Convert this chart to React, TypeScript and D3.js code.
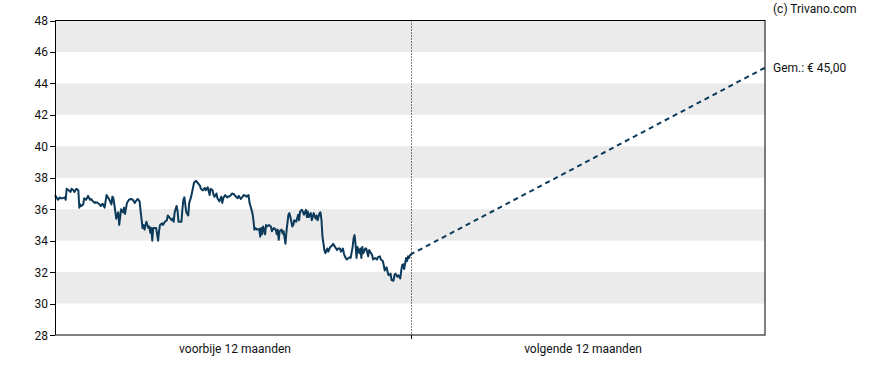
import React from "react";
import * as d3 from "d3";

// past 12 months: [day in window, price]
const pastDays = [0,1,3,5,6,8,10,11,12,14,16,17,19,20,22,24,25,26,27,29,30,32,34,36,37,39,41,42,44,46,47,49,51,53,54,56,58,59,60,61,63,65,66,68,70,71,72,74,76,78,80,82,83,85,87,88,90,91,92,94,96,97,98,99,100,101,103,104,106,107,108,110,111,113,115,116,118,120,121,122,123,125,126,127,130,131,132,133,135,137,138,140,142,143,145,147,149,150,152,154,155,157,159,160,162,163,164,166,167,169,171,172,173,175,177,178,179,181,182,184,186,188,189,191,193,194,196,197,199,200,201,203,204,205,206,208,210,211,212,213,214,216,217,218,220,222,223,225,227,228,229,230,231,233,234,235,237,238,240,241,242,244,245,246,248,250,251,252,254,256,258,259,260,261,263,264,266,268,269,270,272,273,274,275,277,278,280,281,283,285,286,288,290,291,293,294,296,297,298,300,302,303,304,306,307,308,309,310,311,313,314,315,316,317,319,320,322,323,324,326,327,329,331,332,334,335,337,338,339,341,342,343,345,346,348,349,350,352,353,355,356,357,358,359,361,362,363,364,365];
const pastPrices = [36.9,36.8,36.6,36.75,36.7,36.7,36.75,36.6,37.3,37.2,37.1,37.3,37.2,37.1,37.3,37.2,36.1,36.3,36.2,36.3,36.7,36.6,36.85,36.6,36.65,36.5,36.4,36.45,36.4,36.3,36.2,36.35,36.1,36.9,36.8,36.6,36.3,36.8,36.7,36.3,35.4,35.8,35.0,36.0,35.8,36.1,35.7,36.4,36.6,36.65,36.6,36.4,36.5,36.65,36.5,35.9,34.8,35.0,34.7,35.2,34.8,34.9,34.5,34.8,34.0,34.8,34.8,34.8,34.0,34.6,35.0,35.1,35.0,35.2,35.3,35.6,35.45,35.3,35.4,35.2,35.8,36.2,35.9,35.2,35.2,36.0,36.6,36.75,35.8,35.6,36.4,36.8,37.4,37.7,37.8,37.65,37.5,37.3,37.2,37.35,37.2,37.4,36.9,37.3,37.2,36.9,36.8,37.0,36.7,36.5,36.8,36.4,36.7,36.9,36.75,36.8,36.8,36.9,37.0,36.95,36.8,36.7,36.85,36.65,36.8,36.9,36.85,36.8,36.9,36.4,36.2,35.75,35.3,34.7,34.8,34.7,34.75,34.25,34.8,34.4,34.9,34.4,35.0,34.9,35.0,34.9,34.6,34.8,34.7,34.4,34.7,34.05,34.6,34.7,34.45,34.6,33.8,34.6,35.65,35.75,35.5,34.9,35.0,35.3,35.2,35.65,35.3,35.85,35.96,35.65,35.96,35.5,35.85,35.5,35.75,35.3,35.75,35.4,35.6,35.3,35.75,35.8,35.3,34.25,33.4,33.2,33.5,33.3,33.6,33.7,33.8,33.6,33.4,33.5,33.5,33.3,33.5,33.2,33.0,32.8,32.9,32.95,32.9,33.6,34.15,34.35,33.8,32.9,33.6,33.2,33.5,32.9,33.6,33.2,33.5,33.5,33.0,33.4,33.3,33.1,32.8,32.9,32.8,32.95,33.0,32.8,32.7,32.45,32.1,32.3,32.0,31.8,31.9,31.5,31.45,31.8,31.9,31.7,31.8,31.6,32.1,32.45,32.5,32.2,32.9,32.7,33.0,32.9,33.1];

// forecast: from last price to target
const forecastDays = [365, 730];
const forecastPrices = [33.1, 45.0];

const yTicks = [28, 30, 32, 34, 36, 38, 40, 42, 44, 46, 48];
const bands = [[30, 32], [34, 36], [38, 40], [42, 44], [46, 48]];
const periodLabels = ["voorbije 12 maanden", "volgende 12 maanden"];
const targetLabel = "Gem.: € 45,00";
const credit = "(c) Trivano.com";

const W = 888, H = 370;
const L = 55, R = 765, T = 20.5, B = 335;
const FONT = "Roboto, Arial, sans-serif";

export default function App() {
  const x = d3.scaleLinear().domain([0, 730]).range([L, R]);
  const y = d3.scaleLinear().domain([28, 48]).range([B, T]);
  const pastData = pastDays.map((d, i) => [d, pastPrices[i]] as [number, number]);
  const fcData = forecastDays.map((d, i) => [d, forecastPrices[i]] as [number, number]);
  const line = d3.line<[number, number]>().x(d => x(d[0])).y(d => y(d[1]));
  const mid = Math.round(x(365)) + 1.5;

  return (
    <svg width={W} height={H} style={{ position: "absolute", left: 0, top: 0 }} fontFamily={FONT}>
      {bands.map((b, i) => (
        <rect key={i} x={L} width={R - L} y={y(b[1])} height={y(b[0]) - y(b[1])} fill="#ebebeb" />
      ))}
      <line x1={mid} x2={mid} y1={T} y2={B} stroke="#000" strokeWidth={1} strokeDasharray="1,2" />
      <path d={line(pastData) || ""} fill="none" stroke="#0c3a5b" strokeWidth={2} strokeLinejoin="round" />
      <path d={line(fcData) || ""} fill="none" stroke="#0c3a5b" strokeWidth={2} strokeDasharray="5,4" />
      <rect x={L + 0.5} y={T} width={R - L - 0.5} height={B - T} fill="none" stroke="#000" strokeWidth={1} />
      {yTicks.map(t => (
        <g key={t}>
          <line x1={L - 5} x2={L} y1={Math.round(y(t)) + 0.5} y2={Math.round(y(t)) + 0.5} stroke="#000" />
          <text x={L - 7} y={y(t) + 4.5} textAnchor="end" fontSize={12} fill="#111">{t}</text>
        </g>
      ))}
      <line x1={mid} x2={mid} y1={B} y2={B + 4} stroke="#000" />
      <text x={235} y={353} textAnchor="middle" fontSize={12} fill="#111">{periodLabels[0]}</text>
      <text x={583} y={353} textAnchor="middle" fontSize={12} fill="#111">{periodLabels[1]}</text>
      <text x={773} y={72} fontSize={12} fill="#111">{targetLabel}</text>
      <text x={773} y={13} fontSize={12} fill="#111">{credit}</text>
    </svg>
  );
}
